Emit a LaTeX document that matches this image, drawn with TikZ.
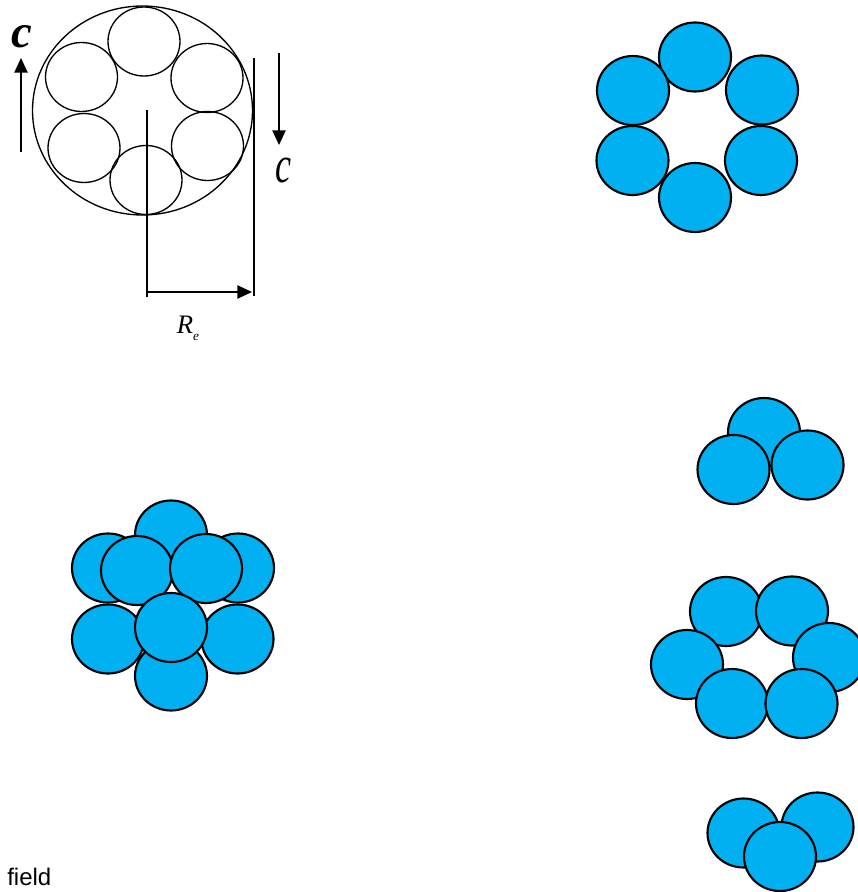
\documentclass[tikz,border=0pt]{standalone}
\usepackage{fontspec}
\setmainfont{Liberation Serif}
\newfontfamily\labelfont{Liberation Sans}
\usetikzlibrary{arrows.meta}
\definecolor{beadBlue}{RGB}{0,176,240}

\begin{document}
\begin{tikzpicture}[x=0.75pt, y=-0.75pt,
    bead/.style={draw=black, fill=beadBlue, line width=1.6pt},
    ring/.style={draw=black, line width=1pt},
    dim/.style={draw=black, line width=1.1pt},
    arr/.style={dim, -{Triangle[length=11pt,width=10pt]}}]
    \useasboundingbox (0,0) rectangle (857,892);
    % Sketch: cylinder with six strands
    \draw[ring] (142.5,110.5) ellipse (110 and 104.5);
    \draw[ring] (144,41.5) ellipse (36 and 34.5);
    \draw[ring] (81.5,77) ellipse (36 and 34.5);
    \draw[ring] (207,78) ellipse (36 and 34.5);
    \draw[ring] (84,148) ellipse (36 and 34.5);
    \draw[ring] (207.5,146) ellipse (36 and 34.5);
    \draw[ring] (146,180) ellipse (36 and 34.5);
    % Radius
    \coordinate (axisTop) at (147,110);
    \coordinate (axisBot) at (147,297);
    \coordinate (edgeTop) at (254,58);
    \coordinate (edgeBot) at (254,296);
    \coordinate (reStart) at (147,292);
    \coordinate (reEnd) at (252,292);
    \draw[dim] (axisTop) -- (axisBot);
    \draw[dim] (edgeTop) -- (edgeBot);
    \draw[arr] (reStart) -- (reEnd);
    \node (reLabel) at (188,328) {\fontsize{20}{21}\selectfont\itshape R\raisebox{-5pt}{\fontsize{10}{11}\selectfont e}};
    % Rotation
    \coordinate (upFrom) at (21,152);
    \coordinate (upTo) at (21,58);
    \coordinate (downFrom) at (279,53);
    \coordinate (downTo) at (279,145);
    \draw[arr] (upFrom) -- (upTo);
    \draw[arr] (downFrom) -- (downTo);
    \node (cUp) at (21.5,36.5) {\fontsize{35}{35}\selectfont\bfseries\itshape c};
    \node (cDown) at (283,171) {\scalebox{0.9}[1.3]{\fontsize{30}{30}\selectfont\itshape c}};
    % Hexamer ring
    \draw[bead] (695,57) ellipse (36 and 34.5);
    \draw[bead] (633,90.5) ellipse (36 and 34.5);
    \draw[bead] (762,90) ellipse (36 and 34.5);
    \draw[bead] (632.5,160.5) ellipse (36 and 34.5);
    \draw[bead] (761,160.5) ellipse (36 and 34.5);
    \draw[bead] (695,197.5) ellipse (36 and 34.5);
    % Packed cluster
    \draw[bead] (171,535) ellipse (36 and 34.5);
    \draw[bead] (171,676) ellipse (36 and 34.5);
    \draw[bead] (108,568) ellipse (36 and 34.5);
    \draw[bead] (238,568) ellipse (36 and 34.5);
    \draw[bead] (108,639) ellipse (36 and 34.5);
    \draw[bead] (237.5,639) ellipse (36 and 34.5);
    \draw[bead] (137,570.5) ellipse (36 and 34.5);
    \draw[bead] (206,568.5) ellipse (36 and 34.5);
    \draw[bead] (171,627.5) ellipse (36 and 34.5);
    % Trimer, top
    \draw[bead] (764,432.5) ellipse (36 and 34.5);
    \draw[bead] (733.5,469.5) ellipse (36 and 34.5);
    \draw[bead] (807.5,465) ellipse (36 and 34.5);
    % Open ring
    \draw[bead] (726,611.5) ellipse (36 and 34.5);
    \draw[bead] (792,611) ellipse (36 and 34.5);
    \draw[bead] (829,657.5) ellipse (36 and 34.5);
    \draw[bead] (687,664.5) ellipse (36 and 34.5);
    \draw[bead] (732,703.5) ellipse (36 and 34.5);
    \draw[bead] (801.5,703.5) ellipse (36 and 34.5);
    % Trimer, bottom
    \draw[bead] (743.5,833) ellipse (36 and 34.5);
    \draw[bead] (817.5,827) ellipse (36 and 34.5);
    \draw[bead] (780,856.5) ellipse (36 and 34.5);
    % Caption
    \node[anchor=west, inner sep=0pt] (fieldLabel) at (7,877) {\labelfont\fontsize{18}{20}\selectfont field};
\end{tikzpicture}
\end{document}
